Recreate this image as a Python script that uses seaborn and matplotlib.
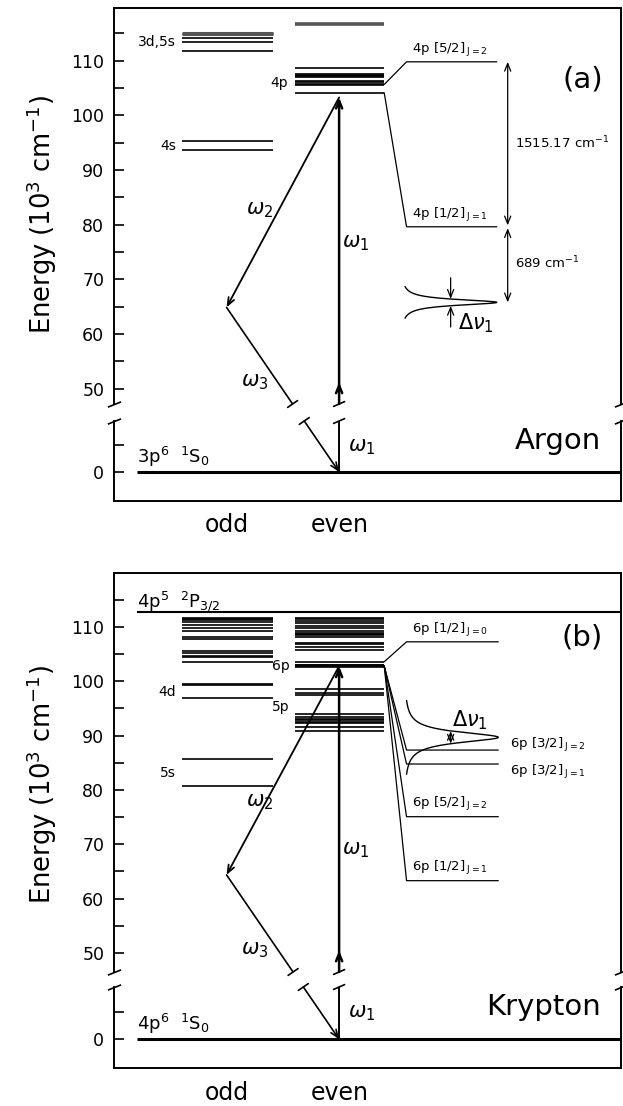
import numpy as np
import matplotlib
matplotlib.use("Agg")
import matplotlib.pyplot as plt
import seaborn as sns

sns.set_style("ticks")
plt.rcParams["font.family"] = ["DejaVu Sans"]
plt.rcParams["mathtext.fontset"] = "dejavusans"
for key in ["text.color", "axes.edgecolor", "axes.labelcolor", "xtick.color", "ytick.color"]:
    plt.rcParams[key] = "black"

# ---------------- data (energies in 10^3 cm^-1) ----------------
# (a) Argon
ar_odd_3d5s = [111.75, 113.45, 114.10]
ar_odd_3d5s_dense = [114.85, 115.10]
ar_odd_4s = [93.70, 95.25]
ar_even_4p = [104.10, 105.46, 105.62, 106.09, 106.24, 107.05, 107.13, 107.29, 107.50, 108.72]
ar_even_high = [116.65]
ar_inset_levels = [109.76, 79.60]
ar_inset_source = [105.62, 104.10]
ar_inset_names = ["4p [5/2]", "4p [1/2]"]
ar_inset_J = ["J=2", "J=1"]
ar_virtual = 64.86
ar_w1_top = 103.25
ar_profile = dict(center=65.78, hwhm=0.64, span=2.9)
ar_split_labels = ["1515.17 cm$^{-1}$", "689 cm$^{-1}$"]

# (b) Krypton
kr_odd = [80.72, 85.62, 96.95, 99.35, 99.55, 103.57, 104.40, 104.67, 105.20, 105.60,
          107.68, 108.16, 109.27, 109.70, 110.31, 110.92, 111.23, 111.45, 111.60]
kr_even = [90.90, 91.63, 92.24, 92.55, 92.86, 93.00, 93.47, 93.90, 97.46, 97.89, 98.50,
           102.60, 102.75, 102.90, 103.05, 103.57, 105.71, 106.20, 106.85, 107.00,
           108.04, 108.47, 108.70, 108.85, 109.27, 109.70, 110.13, 110.75, 111.11,
           111.45, 111.60]
kr_ion_limit = 112.76
kr_inset_levels = [107.24, 87.33, 84.76, 75.07, 63.30]
kr_inset_source = [103.57, 102.80, 102.80, 102.80, 102.80]
kr_inset_names = ["6p [1/2]", "6p [3/2]", "6p [3/2]", "6p [5/2]", "6p [1/2]"]
kr_inset_J = ["J=0", "J=2", "J=1", "J=2", "J=1"]
kr_virtual = 64.36
kr_w1_top = 102.77
kr_profile = dict(center=89.67, hwhm=1.17, span=6.8)

ytick_major = [50, 60, 70, 80, 90, 100, 110]
ytick_minor = [55, 65, 75, 85, 95, 105, 115]
column_names = ["odd", "even"]

# ---------------- layout ----------------
W, H = 623, 1106
L_PX, R_PX = 114, 621
ODD = (13.35, 31.3)
EVEN = (35.7, 53.3)
X_W1 = 44.4
X_VERT = 22.2
X_ELBOW = 57.7
X_SPLIT = 77.65
X_DNU = 66.4
X_GROUND = 4.5
LW_LEVEL = 1.2

fig = plt.figure(figsize=(W / 100, H / 100), dpi=100)


def make_pair(top, brk_top, brk_bot, bot, ylim_up, ylim_lo):
    axU = fig.add_axes([L_PX / W, 1 - brk_top / H, (R_PX - L_PX) / W, (brk_top - top) / H])
    axL = fig.add_axes([L_PX / W, 1 - bot / H, (R_PX - L_PX) / W, (bot - brk_bot) / H])
    for ax in (axU, axL):
        ax.set_xlim(0, 100)
        for s in ax.spines.values():
            s.set_linewidth(1.4)
            s.set_color("black")
        ax.tick_params(axis="y", which="both", direction="in", length=7, width=1.2,
                       labelsize=12.5, pad=7, right=False, color="black", labelcolor="black")
    axU.set_ylim(*ylim_up)
    axL.set_ylim(*ylim_lo)
    axU.spines["bottom"].set_visible(False)
    axL.spines["top"].set_visible(False)
    axU.set_xticks([])
    axU.set_yticks(ytick_major)
    axU.set_yticks(ytick_minor, minor=True)
    axL.set_yticks([0])
    axL.set_yticks([5], minor=True)
    axL.set_xticks([np.mean(ODD), np.mean(EVEN)])
    axL.set_xticklabels(column_names, fontsize=17)
    axL.tick_params(axis="x", length=0, pad=9, labelcolor="black")
    kw = dict(marker=[(-1, -0.4), (1, 0.4)], markersize=9.5, linestyle="none",
              color="k", mec="k", mew=1.2, clip_on=False)
    axU.plot([0, 1], [0, 0], transform=axU.transAxes, **kw)
    axL.plot([0, 1], [1, 1], transform=axL.transAxes, **kw)
    return axU, axL


def cross(axU, axL, pU, pL):
    dU = axU.transData.transform(pU)
    dL = axL.transData.transform(pL)
    yb = axU.transAxes.transform((0, 0))[1]
    yt = axL.transAxes.transform((0, 1))[1]

    def at(y):
        t = (y - dU[1]) / (dL[1] - dU[1])
        return dU + t * (dL - dU)
    u = (dL - dU) / np.hypot(*(dL - dU))
    return at(yb), at(yt), u


def mark(ax, d, vec):
    inv = ax.transData.inverted()
    a = inv.transform(d - vec)
    b = inv.transform(d + vec)
    ax.plot([a[0], b[0]], [a[1], b[1]], color="k", lw=1.2, clip_on=False)


def arrow(ax, tail, head, style="->", lw=1.3):
    ax.annotate("", xy=head, xytext=tail,
                arrowprops=dict(arrowstyle=style + ",head_length=0.55,head_width=0.22",
                                lw=lw, color="k", shrinkA=0, shrinkB=0))


def transitions(axU, axL, w1_top, vertex):
    # omega_1 vertical
    dU, dL, u = cross(axU, axL, (X_W1, w1_top), (X_W1, 0))
    qU = axU.transData.inverted().transform(dU)
    qL = axL.transData.inverted().transform(dL)
    arrow(axU, (X_W1, qU[1]), (X_W1, qU[1] + 4.0), lw=1.8)
    arrow(axU, (X_W1, qU[1] + 3.5), (X_W1, w1_top), lw=1.8)
    axL.plot([X_W1, X_W1], [0, qL[1]], color="k", lw=1.4)
    mark(axU, dU, np.array([5.5, 2.4]))
    mark(axL, dL, np.array([5.5, 2.4]))
    # omega_2
    arrow(axU, (X_W1, w1_top), (X_VERT, vertex), lw=1.3)
    # omega_3
    dU, dL, u = cross(axU, axL, (X_VERT, vertex), (X_W1, 0))
    qU = axU.transData.inverted().transform(dU)
    qL = axL.transData.inverted().transform(dL)
    axU.plot([X_VERT, qU[0]], [vertex, qU[1]], color="k", lw=1.2)
    arrow(axL, (qL[0], qL[1]), (X_W1, 0), lw=1.2)
    perp = np.array([-u[1], u[0]]) * 6
    mark(axU, dU, perp)
    mark(axL, dL, perp)


def profile(ax, p, x_base, x_peak):
    y = np.linspace(p["center"] - p["span"], p["center"] + p["span"], 600)
    lor = 1 / (1 + ((y - p["center"]) / p["hwhm"]) ** 2)
    lmin = lor.min()
    x = x_base + (x_peak - x_base) * (lor - lmin) / (1 - lmin)
    sns.lineplot(x=x, y=y, sort=False, orient="y", estimator=None, ax=ax,
                 color="k", lw=1.0, legend=False)


def jlabel(name, j):
    return name + "$\\,_{\\mathrm{" + j + "}}$"


# ======================= (a) Argon =======================
aU, aL = make_pair(8, 404, 421, 501, (47.2, 119.6), (-5.3, 9.3))
aU.hlines(ar_odd_3d5s + ar_odd_4s, *ODD, color="k", lw=LW_LEVEL)
aU.hlines(ar_odd_3d5s_dense, *ODD, color="#555555", lw=2.2)
aU.hlines(ar_even_4p, *EVEN, color="k", lw=LW_LEVEL)
aU.hlines(ar_even_high, *EVEN, color="#555555", lw=2.6)
aU.text(12.2, 113.4, "3d,5s", ha="right", va="center", fontsize=10)
aU.text(12.2, 94.3, "4s", ha="right", va="center", fontsize=10)
aU.text(34.4, 105.8, "4p", ha="right", va="center", fontsize=10)

for s, y, nm, j in zip(ar_inset_source, ar_inset_levels, ar_inset_names, ar_inset_J):
    aU.plot([EVEN[1], X_ELBOW, 75.5], [s, y, y], color="k", lw=0.9)
    aU.text(X_ELBOW + 1.0, y + 0.6, jlabel(nm, j), fontsize=9.5, ha="left", va="bottom")

arrow(aU, (X_SPLIT, ar_inset_levels[1] + 0.25), (X_SPLIT, ar_inset_levels[0]), style="<->", lw=0.9)
arrow(aU, (X_SPLIT, ar_inset_levels[1] - 0.25), (X_SPLIT, ar_profile["center"]), style="<->", lw=0.9)
aU.text(79.1, 94.9, ar_split_labels[0], fontsize=9.5, ha="left", va="center")
aU.text(79.1, 73.0, ar_split_labels[1], fontsize=9.5, ha="left", va="center")

profile(aU, ar_profile, 57.4, 75.5)
c, h = ar_profile["center"], ar_profile["hwhm"]
arrow(aU, (X_DNU, c + 4.5), (X_DNU, c + h), lw=0.9)
arrow(aU, (X_DNU, c - 4.5), (X_DNU, c - h), lw=0.9)
aU.text(67.8, 62.0, r"$\Delta\nu_1$", fontsize=15, ha="left", va="center")

transitions(aU, aL, ar_w1_top, ar_virtual)
aU.text(28.8, 82.7, r"$\omega_2$", fontsize=15, ha="center", va="center")
aU.text(47.6, 76.6, r"$\omega_1$", fontsize=15, ha="center", va="center")
aU.text(27.7, 51.3, r"$\omega_3$", fontsize=15, ha="center", va="center")
aL.text(48.8, 4.6, r"$\omega_1$", fontsize=15, ha="center", va="center")
aL.hlines(0, X_GROUND, 100, color="k", lw=2.2)
aL.text(X_GROUND, 1.6, "3p$^6$  $^1$S$_0$", fontsize=13, ha="left", va="baseline")
aL.text(96.1, 5.7, "Argon", fontsize=21, ha="right", va="center")
aU.text(96.4, 106.6, "(a)", fontsize=21, ha="right", va="center")
fig.text(0.067, 1 - 215 / H, "Energy (10$^3$ cm$^{-1}$)", rotation=90,
         ha="center", va="center", fontsize=18.5)

# ======================= (b) Krypton =======================
bU, bL = make_pair(573, 972, 987, 1068, (46.5, 119.9), (-5.3, 9.6))
bU.hlines(kr_odd, *ODD, color="k", lw=LW_LEVEL)
bU.hlines(kr_even, *EVEN, color="k", lw=LW_LEVEL)
bU.hlines(kr_ion_limit, X_GROUND, 100, color="k", lw=1.5)
bU.text(X_GROUND, 113.6, "4p$^5$  $^2$P$_{3/2}$", fontsize=13, ha="left", va="baseline")
bU.text(12.2, 98.05, "4d", ha="right", va="center", fontsize=10)
bU.text(12.2, 83.05, "5s", ha="right", va="center", fontsize=10)
bU.text(34.6, 102.77, "6p", ha="right", va="center", fontsize=10)
bU.text(34.6, 95.3, "5p", ha="right", va="center", fontsize=10)

kr_label_place = ["above", "right_up", "right_down", "above", "above"]
for s, y, nm, j, pl in zip(kr_inset_source, kr_inset_levels, kr_inset_names, kr_inset_J, kr_label_place):
    bU.plot([EVEN[1], X_ELBOW, 75.8], [s, y, y], color="k", lw=0.9)
    if pl == "above":
        bU.text(X_ELBOW + 1.0, y + 0.6, jlabel(nm, j), fontsize=9.5, ha="left", va="bottom")
    elif pl == "right_up":
        bU.text(78.1, y + 0.9, jlabel(nm, j), fontsize=9.5, ha="left", va="center")
    else:
        bU.text(78.1, y - 1.4, jlabel(nm, j), fontsize=9.5, ha="left", va="center")

profile(bU, kr_profile, 57.7, 75.8)
c, h = kr_profile["center"], kr_profile["hwhm"]
arrow(bU, (X_DNU, c - h), (X_DNU, c + h), style="<->", lw=0.9)
bU.text(66.6, 92.75, r"$\Delta\nu_1$", fontsize=15, ha="left", va="center")

transitions(bU, bL, kr_w1_top, kr_virtual)
bU.text(28.8, 77.8, r"$\omega_2$", fontsize=15, ha="center", va="center")
bU.text(47.6, 68.9, r"$\omega_1$", fontsize=15, ha="center", va="center")
bU.text(27.7, 50.5, r"$\omega_3$", fontsize=15, ha="center", va="center")
bL.text(48.8, 4.9, r"$\omega_1$", fontsize=15, ha="center", va="center")
bL.hlines(0, X_GROUND, 100, color="k", lw=2.2)
bL.text(X_GROUND, 1.6, "4p$^6$  $^1$S$_0$", fontsize=13, ha="left", va="baseline")
bL.text(96.1, 5.9, "Krypton", fontsize=21, ha="right", va="center")
bU.text(96.4, 108.0, "(b)", fontsize=21, ha="right", va="center")
fig.text(0.067, 1 - 785 / H, "Energy (10$^3$ cm$^{-1}$)", rotation=90,
         ha="center", va="center", fontsize=18.5)

fig.savefig("out.png", dpi=100)
